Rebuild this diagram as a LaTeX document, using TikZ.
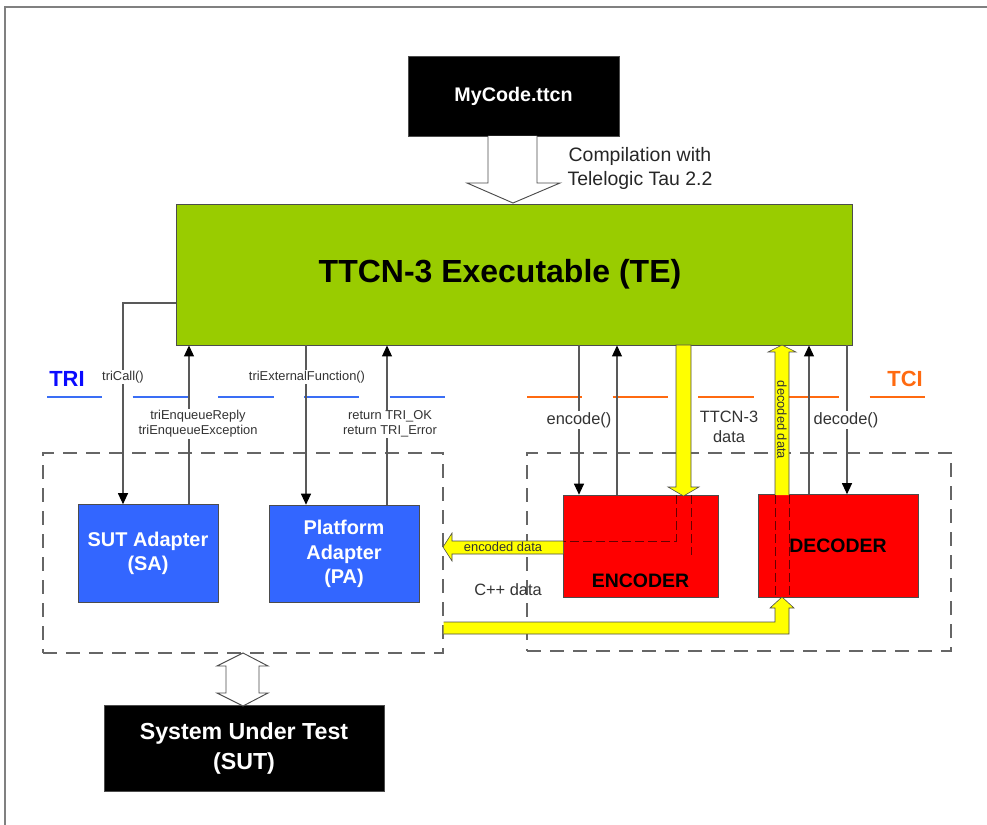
\documentclass[tikz,border=0pt]{standalone}
\usepackage{fontspec}
\setmainfont{Liberation Sans}
\usetikzlibrary{arrows.meta, positioning}
\usepackage{xcolor}

\definecolor{tegreen}{HTML}{99CC00}
\definecolor{adblue}{HTML}{3366FF}
\definecolor{triblue}{HTML}{0A0AFF}
\definecolor{trilineblue}{HTML}{3A6EF5}
\definecolor{tciorange}{HTML}{FF6A10}
\definecolor{datayellow}{HTML}{FFFF00}

\begin{document}
\begin{tikzpicture}[x=0.03cm, y=-0.03cm,
    box/.style={draw=black!70, line width=0.8pt, inner sep=0pt, align=center, font=\bfseries},
    blackbox/.style={box, fill=black, text=white},
    adapter/.style={box, fill=adblue, text=white, minimum height=2.93cm,
        font=\fontsize{17}{21}\selectfont\bfseries},
    codec/.style={box, fill=red, minimum width=4.7cm, minimum height=3.08cm,
        font=\fontsize{16.6}{20}\selectfont\bfseries},
    grpbox/.style={draw=black!60, line width=1.1pt, dash pattern=on 0.42cm off 0.27cm,
        inner sep=0pt},
    call/.style={draw=black!65, line width=0.9pt,
        -{Triangle[length=0.33cm, width=0.3cm, color=black]}},
    lbl/.style={fill=white, inner sep=1pt, text=black!80, align=center,
        font=\fontsize{11}{12.8}\selectfont},
    midlbl/.style={inner sep=1pt, text=black!80, align=center,
        font=\fontsize{14}{17}\selectfont},
    iface/.style={line width=1.6pt, dash pattern=on 1.66cm off 0.91cm},
    pipe/.style={draw=black!70, line width=0.5pt, fill=datayellow},
    hidden/.style={draw=black!60!red, line width=0.8pt, dash pattern=on 0.27cm off 0.12cm},
    hollow/.style={draw=black!70, line width=0.8pt, fill=white}]

\useasboundingbox (0,0) rectangle (987,825);
\draw[black!50, line width=1.2pt] (5,825) -- (5,7) -- (987,7);

% boxes
\node[blackbox, minimum width=6.33cm, minimum height=2.4cm,
    font=\fontsize{16.8}{20}\selectfont\bfseries] (code) at (513.5,96) {MyCode.ttcn};
\node[box, fill=tegreen, minimum width=20.28cm, minimum height=4.23cm] (te) at (514,274.5) {};
\node[font=\fontsize{27.3}{32}\selectfont\bfseries] (tetext) at ([xshift=-0.42cm]te.center)
    {TTCN-3 Executable (TE)};

\node[grpbox, minimum width=12cm, minimum height=6cm] (trigrp) at (243,553) {};
\node[grpbox, minimum width=12.72cm, minimum height=5.94cm] (tcigrp) at (739,552) {};

\node[adapter, minimum width=4.2cm] (sa) at (148,553.5) {SUT Adapter\\(SA)};
\node[adapter, minimum width=4.5cm] (pa) at (344,554) {Platform\\Adapter\\(PA)};
\node[codec, minimum width=4.65cm] (enc) at (640.5,546.5) {};
\node[font=\fontsize{16.6}{20}\selectfont\bfseries] (enctext) at ([yshift=0.54cm]enc.south) {ENCODER};
\node[codec, minimum width=4.8cm] (dec) at (838,546) {DECODER};

\node[blackbox, minimum width=8.4cm, minimum height=2.58cm,
    font=\fontsize{19.8}{24.8}\selectfont\bfseries] (sut) at (244,748.5)
    {System Under Test\\(SUT)};

% compilation step
\draw[hollow] (488,136) -- (488,183) -- (467,183) -- (513,203) -- (560,183)
    -- (537,183) -- (537,136);
\node[align=center, text=black!85, font=\fontsize{16.6}{20.5}\selectfont] (comp) at (640,168)
    {Compilation with\\Telelogic Tau 2.2};

% SUT link
\draw[hollow] (243,653) -- (268,666) -- (259,666) -- (259,693) -- (268,693) -- (243,706)
    -- (217,693) -- (226,693) -- (226,666) -- (217,666) -- cycle;

% interfaces
\draw[iface, trilineblue] (47,397) -- (446,397);
\draw[iface, tciorange] (527,397) -- (927,397);
\node[text=triblue, font=\fontsize{18.7}{22}\selectfont\bfseries] (tri) at (67,379) {TRI};
\node[text=tciorange, font=\fontsize{18.7}{22}\selectfont\bfseries] (tci) at (905,379) {TCI};

% anchor points on the box tops
\coordinate (sa in) at ([xshift=-0.75cm]sa.north);
\coordinate (sa out) at ([xshift=1.23cm]sa.north);
\coordinate (pa in) at ([xshift=-1.14cm]pa.north);
\coordinate (pa out) at ([xshift=1.29cm]pa.north);
\coordinate (enc in) at ([xshift=-1.845cm]enc.north);
\coordinate (enc out) at ([xshift=-0.705cm]enc.north);
\coordinate (dec out) at ([xshift=-0.87cm]dec.north);
\coordinate (dec in) at ([xshift=0.27cm]dec.north);

% TRI calls
\draw[call] ([yshift=-0.855cm]te.west) -| (sa in);
\draw[call] (sa out) -- (te.south -| sa out);
\draw[call] (te.south -| pa in) -- (pa in);
\draw[call] (pa out) -- (te.south -| pa out);
\node[lbl] (lcall) at (123,377) {triCall()};
\node[lbl] (lreply) at (198,424) {triEnqueueReply\\triEnqueueException};
\node[lbl] (lext) at (307,377) {triExternalFunction()};
\node[lbl] (lret) at (390,424) {return TRI\_OK\\return TRI\_Error};

% TCI calls
\draw[call] (te.south -| enc in) -- (enc in);
\draw[call] (enc out) -- (te.south -| enc out);
\draw[call] (dec out) -- (te.south -| dec out);
\draw[call] (te.south -| dec in) -- (dec in);
\node[midlbl, fill=white] (lenc) at (579,420) {encode()};
\node[midlbl, fill=white] (ldec) at (846,420) {decode()};

% data paths
\draw[pipe] (676,345) -- (676,487) -- (668,487) -- (683.5,496) -- (699,487)
    -- (691,487) -- (691,345) -- cycle;
\node[midlbl] (lttcn) at (729,427) {TTCN-3\\data};
\draw[hidden] (676,495) -- (676,541) -- (563,541);
\draw[hidden] (691,495) -- (691,555);

\draw[pipe] (563,541) -- (452,541) -- (452,533) -- (443,547) -- (452,561)
    -- (452,554) -- (563,554);
\node[inner sep=0pt, text=black!80, font=\fontsize{11}{12}\selectfont] (lencd) at (503,547)
    {encoded data};

\draw[pipe] (775,495) -- (775,352) -- (768,352) -- (782,345) -- (796,352)
    -- (789,352) -- (789,495);
\node[inner sep=0pt, rotate=-90, text=black!80, font=\fontsize{11}{12}\selectfont] (ldecd)
    at (782,420) {decoded data};
\draw[hidden] (775,495) -- (775,597);
\draw[hidden] (789,495) -- (789,597);

\fill[datayellow] (trigrp.east |- 0,622) -- (775,622) -- (775,608) -- (770,608) -- (782,597)
    -- (794,608) -- (789,608) -- (789,634) -- (trigrp.east |- 0,634) -- cycle;
\draw[black!70, line width=0.5pt] (trigrp.east |- 0,622) -- (775,622) -- (775,608) -- (770,608)
    -- (782,597) -- (794,608) -- (789,608) -- (789,634) -- (trigrp.east |- 0,634);
\node[midlbl] (lcpp) at (508,590) {C++ data};

\end{tikzpicture}
\end{document}
